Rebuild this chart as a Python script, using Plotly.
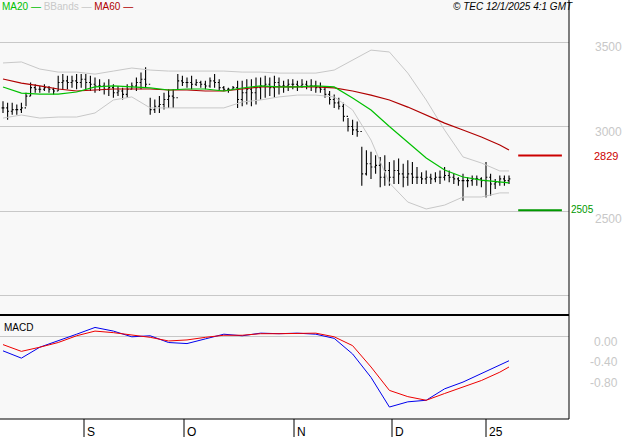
import plotly.graph_objects as go

high = [3150,3140,3140,3130,3140,3200,3260,3250,3240,3250,3240,3230,
        3300,3310,3300,3300,3310,3310,3310,3300,3290,3280,
        3260,3280,3250,3240,3230,3250,3260,3290,3320,3350,
        3170,3160,3180,3200,3220,3220,
        3310,3300,3290,3300,3280,3270,3270,3290,3310,3280,
        3240,3230,3240,3270,3270,3280,3280,3290,
        3290,3300,3290,3300,3290,3270,3280,3280,3270,3280,3270,3280,3270,3260,
        3230,3210,3190,3170,3140,3050,3040,3030,
        2880,2860,2850,2830,2820,2830,2790,2800,2810,2780,2800,2790,2760,
        2730,2740,2720,2730,2740,2760,2740,2720,2700,
        2720,2700,2710,2710,2700,2790,2720,2690,2710,2710,2710]
low = [3080,3040,3070,3070,3080,3120,3180,3200,3200,3210,3200,3190,
       3210,3220,3220,3230,3220,3230,3220,3210,3200,3210,
       3190,3180,3170,3180,3160,3170,3220,3210,3220,3230,
       3070,3080,3080,3100,3110,3110,
       3220,3240,3230,3220,3240,3230,3220,3230,3230,3210,
       3210,3200,3220,3110,3120,3130,3120,3130,
       3160,3170,3180,3170,3190,3200,3210,3220,3210,3230,3220,3210,3200,3200,
       3170,3130,3110,3100,3030,2970,2950,2940,
       2650,2710,2690,2720,2640,2650,2650,2660,2660,2640,2650,2660,2660,
       2660,2660,2660,2670,2660,2680,2670,2660,2650,
       2560,2640,2650,2650,2640,2580,2590,2630,2650,2650,2660]
close = [3110,3090,3100,3100,3110,3180,3230,3220,3220,3230,3220,3210,
         3260,3270,3260,3270,3260,3280,3260,3250,3240,3240,
         3220,3230,3200,3210,3190,3220,3240,3260,3280,3250,
         3100,3120,3130,3160,3180,3170,
         3270,3260,3260,3250,3260,3250,3240,3270,3260,3230,
         3220,3220,3230,3160,3200,3220,3200,3230,
         3240,3250,3230,3260,3240,3240,3250,3250,3240,3250,3240,3240,3230,3220,
         3190,3160,3140,3120,3060,3000,2980,2970,
         2720,2780,2760,2770,2700,2740,2700,2740,2720,2700,2720,2700,2700,
         2690,2700,2690,2700,2700,2710,2700,2690,2680,
         2680,2680,2690,2690,2680,2700,2660,2670,2690,2680,2690]
open_ = [close[0]] + close[:-1]
xi = list(range(len(close)))

ind_x = list(range(0, 109, 4)) + [110]
ma60 = [3281,3257,3240,3222,3210,3216,3222,3222,3222,3216,3216,3210,3210,3222,
        3234,3234,3234,3234,3228,3210,3186,3157,3115,3068,3020,2979,2938,2891,2861]
ma20 = [3234,3198,3192,3192,3204,3234,3240,3234,3228,3216,3222,3222,3210,3228,
        3240,3234,3234,3240,3234,3168,3098,3000,2908,2814,2743,2701,2683,2672,2666]
bb_up = [3376,3382,3340,3322,3322,3310,3328,3346,3334,3328,3328,3328,3328,3322,
         3322,3316,3316,3316,3334,3393,3452,3441,3316,3157,2979,2820,2784,2737,2737]
bb_lo = [3050,3068,3050,3056,3056,3080,3157,3175,3110,3110,3110,3110,3110,3145,
         3157,3175,3186,3186,3175,3098,2920,2666,2553,2512,2535,2583,2583,2607,2607]
macd = [-0.27,-0.41,-0.20,-0.08,0.05,0.18,0.11,0.0,0.02,-0.11,-0.13,-0.04,0.05,0.02,
        0.07,0.06,0.07,0.05,-0.03,-0.33,-0.78,-1.35,-1.25,-1.22,-1.0,-0.87,-0.71,-0.55,-0.46]
signal = [-0.15,-0.28,-0.20,-0.11,0.02,0.11,0.08,0.04,-0.01,-0.08,-0.06,-0.01,0.03,0.03,
          0.06,0.06,0.07,0.07,0.0,-0.17,-0.58,-1.03,-1.15,-1.22,-1.09,-0.96,-0.84,-0.68,-0.58]

W, H = 627, 440
def px(x): return x / W
def py(y): return 1 - y / H

fig = go.Figure()
fig.add_trace(go.Scatter(x=ind_x, y=bb_up, mode="lines", line=dict(color="#c8c8c8", width=1)))
fig.add_trace(go.Scatter(x=ind_x, y=bb_lo, mode="lines", line=dict(color="#c8c8c8", width=1)))
fig.add_trace(go.Ohlc(x=xi, open=open_, high=high, low=low, close=close,
                      increasing=dict(line=dict(color="black", width=1.1)),
                      decreasing=dict(line=dict(color="black", width=1.1)), tickwidth=0.3))
fig.add_trace(go.Scatter(x=ind_x, y=ma60, mode="lines", line=dict(color="#b00000", width=1.2)))
fig.add_trace(go.Scatter(x=ind_x, y=ma20, mode="lines", line=dict(color="#00c000", width=1.2)))
fig.add_trace(go.Scatter(x=ind_x, y=macd, mode="lines", line=dict(color="#0000ee", width=1), xaxis="x2", yaxis="y2"))
fig.add_trace(go.Scatter(x=ind_x, y=signal, mode="lines", line=dict(color="#ee0000", width=1), xaxis="x2", yaxis="y2"))

xr = [-3 / 4.6, 566 / 4.6]
dom = [0, 569 / W]
fig.update_layout(
    width=W, height=H, margin=dict(l=0, r=0, t=0, b=0), showlegend=False,
    paper_bgcolor="white", plot_bgcolor="#f8f8f8",
    xaxis=dict(domain=dom, range=xr, showgrid=False, showticklabels=False, zeroline=False,
               rangeslider=dict(visible=False)),
    yaxis=dict(domain=[py(315), 1], range=[1884.7, 3748.5], tickvals=[2000, 2500, 3000, 3500],
               showticklabels=False, gridcolor="#c8c8c8", zeroline=False),
    xaxis2=dict(domain=dom, range=xr, anchor="y2", showgrid=False, showticklabels=False, zeroline=False),
    yaxis2=dict(domain=[py(419), py(316)], range=[-1.58, 0.40], tickvals=[0],
                showticklabels=False, gridcolor="#c8c8c8", zeroline=False),
)
shapes = [
    dict(type="line", xref="paper", yref="paper", x0=px(569), x1=px(569), y0=py(0), y1=py(419), line=dict(color="black", width=1)),
    dict(type="line", xref="paper", yref="paper", x0=0, x1=px(569), y0=py(315), y1=py(315), line=dict(color="black", width=2)),
    dict(type="line", xref="paper", yref="paper", x0=0, x1=px(569), y0=py(419), y1=py(419), line=dict(color="black", width=1)),
    dict(type="line", xref="x", yref="y", x0=112, x1=121.5, y0=2829, y1=2829, line=dict(color="#cc0000", width=2)),
    dict(type="line", xref="x", yref="y", x0=112, x1=121.5, y0=2505, y1=2505, line=dict(color="#009900", width=2)),
]
ann = []
def A(x, y, text, anchor, size, color):
    ann.append(dict(xref="paper", yref="paper", x=px(x), y=py(y), text=text, xanchor=anchor,
                    yanchor="middle", showarrow=False, font=dict(size=size, color=color, family="Arial")))
for lbl, xp in [("S", 84), ("O", 184), ("N", 294), ("D", 392), ("25", 486)]:
    shapes.append(dict(type="line", xref="paper", yref="paper", x0=px(xp), x1=px(xp), y0=py(419), y1=py(437), line=dict(color="black", width=1)))
    A(xp + 1, 432, lbl, "left", 12, "black")
for t, yy in [("3500", 47), ("3000", 132), ("2500", 219)]:
    A(624, yy, t, "right", 12, "#c8c8c8")
for t, yy in [("0.00", 342), ("-0.40", 362), ("-0.80", 383)]:
    A(620, yy, t, "right", 12, "#c8c8c8")
A(592, 156, "2829", "left", 11, "#cc0000")
A(569, 209, "2505", "left", 10, "#009900")
A(0, 6, "MA20 — <span style='color:#c8c8c8'>BBands —</span> <span style='color:#b00000'>MA60 —</span>", "left", 10, "#00c000")
A(575, 6, "<i>© TEC 12/1/2025 4:1 GMT</i>", "right", 10, "black")
A(2, 327, "MACD", "left", 10, "black")
fig.update_layout(shapes=shapes, annotations=ann)
fig.write_html("out.html", config={"displayModeBar": False},
               post_script="document.body.style.margin='0';")
